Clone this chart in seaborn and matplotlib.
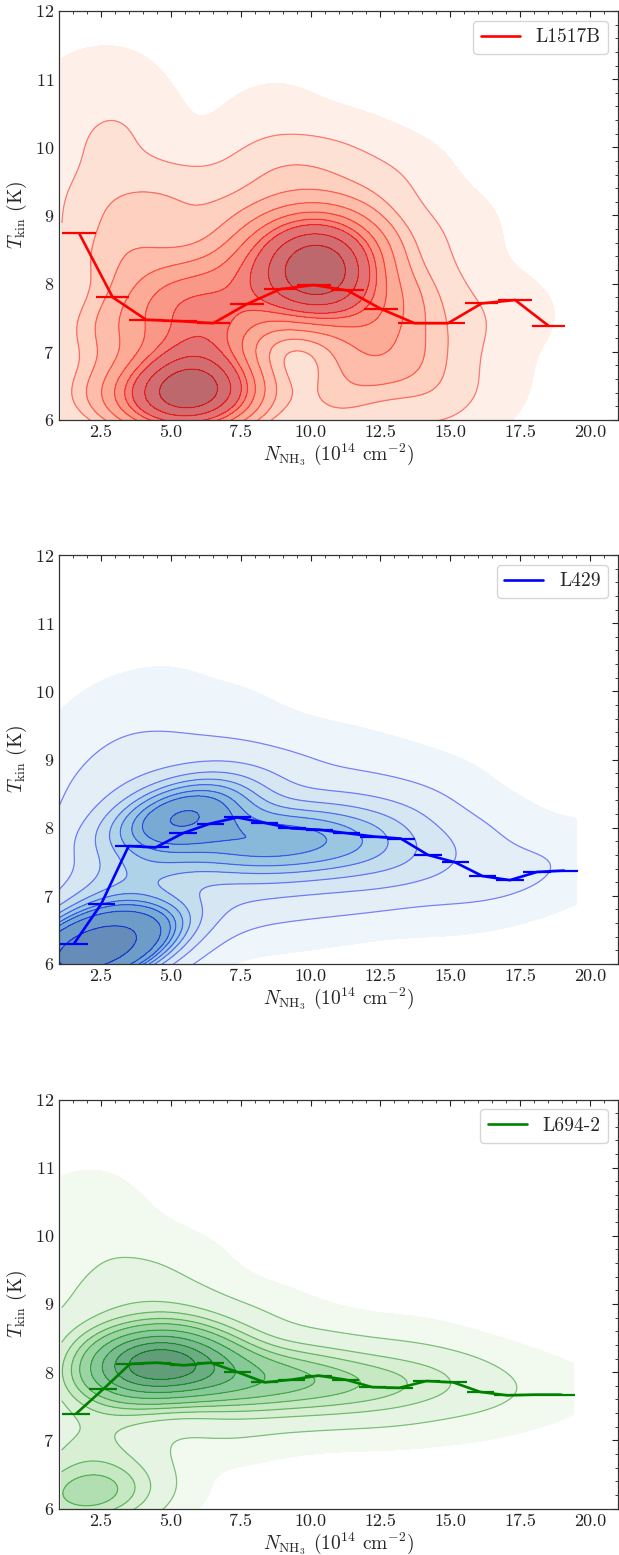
import numpy as np
import pandas as pd
import matplotlib
matplotlib.use("Agg")
import matplotlib.pyplot as plt
import seaborn as sns
from matplotlib.ticker import AutoMinorLocator, MultipleLocator, FormatStrFormatter

sns.set_style("white")
plt.rcParams["font.family"] = ["cmr10", "DejaVu Serif"]
plt.rcParams["mathtext.fontset"] = "cm"
plt.rcParams["axes.formatter.use_mathtext"] = True
plt.rcParams["axes.unicode_minus"] = False

# ---------------- binned mean lines ----------------
l1517_x = [1.72, 2.92, 4.12, 5.32, 6.52, 7.72, 8.92, 10.12, 11.32, 12.52, 13.72, 14.92, 16.12, 17.32, 18.52]
l1517_y = [8.74, 7.80, 7.47, 7.45, 7.42, 7.70, 7.92, 7.98, 7.90, 7.63, 7.42, 7.42, 7.71, 7.76, 7.38]
l1517_xerr = 0.6

l429_x = [1.54, 2.51, 3.49, 4.46, 5.44, 6.41, 7.38, 8.36, 9.33, 10.31, 11.28, 12.26, 13.23, 14.20, 15.18, 16.15, 17.13, 18.10, 19.07]
l429_y = [6.30, 6.88, 7.73, 7.71, 7.92, 8.06, 8.15, 8.07, 7.99, 7.97, 7.92, 7.87, 7.84, 7.60, 7.49, 7.29, 7.23, 7.35, 7.37]
l429_xerr = 0.49

l694_x = [1.61, 2.58, 3.54, 4.50, 5.46, 6.43, 7.39, 8.36, 9.32, 10.28, 11.25, 12.21, 13.18, 14.14, 15.11, 16.07, 17.04, 18.00, 18.97]
l694_y = [7.39, 7.75, 8.12, 8.14, 8.10, 8.14, 8.00, 7.85, 7.89, 7.95, 7.89, 7.78, 7.77, 7.87, 7.85, 7.71, 7.66, 7.67, 7.67]
l694_xerr = 0.49

# ---------------- density samples (x, y, weight) ----------------
l1517_pts_x = [4.9, 5.7, 6.4, 5.6, 5.7, 5.8,
               9.9, 10.4, 10.5, 11.2, 9.5, 10.3,
               3.5, 3.4, 4.3, 3.6, 7.3, 7.2, 7.6, 8.6, 8.3, 10.9, 11.8, 12.3, 12.2, 13.5, 13.8, 14.5, 15.0,
               1.6, 1.7, 2.0, 2.3, 2.7, 3.0,
               4.5, 6.5, 8.5, 10.5, 12.5, 14.5,
               16.5, 18.0, 16.0, 1.8, 2.8, 8.5]
l1517_pts_y = [6.35, 6.4, 6.45, 7.0, 7.6, 8.1,
               8.0, 8.4, 7.8, 8.1, 8.5, 8.8,
               6.4, 7.3, 7.9, 8.6, 6.3, 7.4, 8.3, 8.8, 7.9, 6.2, 6.9, 7.5, 8.6, 6.8, 7.9, 6.3, 7.3,
               6.4, 7.4, 8.3, 9.2, 10.0, 10.4,
               9.3, 9.1, 9.7, 9.7, 9.4, 8.7,
               7.6, 7.4, 6.5, 10.9, 11.0, 10.5]
l1517_pts_w = [4, 5, 3, 2.5, 2.5, 1.5,
               4, 4, 3, 2.5, 2, 2,
               2.5, 2, 2, 1.4, 2.7, 2.7, 2, 1.8, 1.5, 1.5, 1.8, 2.5, 1.5, 1.5, 1.2, 1.0, 0.8,
               1.0, 0.9, 0.9, 1.0, 0.7, 0.4,
               1.2, 1.0, 1.2, 1.1, 0.9, 0.5,
               0.25, 0.06, 0.2, 0.15, 0.15, 0.2]

l429_pts_x = [1.9, 2.6, 3.1, 2.3, 1.3,
              1.6, 2.0, 2.5, 3.0,
              5.0, 5.8, 6.6, 4.3, 5.5,
              3.8, 4.5, 7.5, 8.5, 9.5, 10.5, 11.5, 12.5, 13.5, 14.5, 15.5, 16.5, 17.5, 18.5, 19.2,
              4.0, 6.5, 9.0, 11.0, 13.0, 7.5, 10.0, 12.5, 3.5, 6.0]
l429_pts_y = [6.15, 6.2, 6.3, 6.55, 6.4,
              7.0, 7.8, 8.6, 9.3,
              8.3, 8.3, 8.1, 8.1, 7.9,
              7.3, 6.6, 7.7, 7.9, 7.6, 8.0, 7.6, 7.9, 7.5, 7.6, 7.3, 7.2, 7.3, 7.35, 7.4,
              9.0, 9.0, 8.8, 8.6, 8.4, 6.9, 6.9, 7.0, 9.9, 9.6]
l429_pts_w = [8, 10, 2, 2, 2,
              1.2, 1, 0.8, 0.45,
              3, 3, 2.5, 2.2, 2,
              2.5, 1.2, 3, 2.5, 2.5, 2.2, 2.2, 1.8, 1.5, 0.9, 0.6, 0.5, 0.3, 0.25, 0.15,
              0.6, 0.7, 0.6, 0.5, 0.3, 1.0, 0.6, 0.4, 0.25, 0.2]

l694_pts_x = [3.6, 4.4, 5.3, 6.2, 4.0, 4.8,
              7.2, 8.4, 9.6, 10.8, 12.0, 13.2, 14.4, 15.6, 16.8, 18.0, 19.0,
              2.5, 2.2, 3.0, 5.0, 7.5, 10.0, 13.0, 7.0, 10.0, 13.0, 15.5,
              1.8, 2.5, 1.5, 2.2, 3.0,
              1.8, 2.5, 4.5, 2.0]
l694_pts_y = [8.2, 8.15, 8.1, 8.0, 7.8, 8.5,
              7.9, 7.85, 7.9, 7.85, 7.8, 7.8, 7.9, 7.8, 7.7, 7.7, 7.7,
              7.8, 8.6, 9.2, 9.0, 8.7, 8.4, 8.3, 7.2, 7.4, 7.4, 7.4,
              6.2, 6.25, 6.8, 7.2, 6.8,
              10.2, 9.8, 9.6, 10.8]
l694_pts_w = [6, 7, 6, 4, 3, 2,
              3, 2.5, 2, 1.8, 1.3, 1.0, 0.8, 0.5, 0.25, 0.12, 0.06,
              1.5, 1, 0.8, 0.8, 0.6, 0.4, 0.3, 0.6, 0.4, 0.3, 0.15,
              3, 2.5, 1.0, 1.0, 0.6,
              0.35, 0.3, 0.3, 0.1]

clip_1517 = ((1.1, 19.3), (5.0, 11.6))
clip_429 = ((1.0, 19.5), (5.0, 10.57))
clip_694 = ((1.1, 19.4), (5.0, 11.05))

line_levels = [0.05, 0.156, 0.261, 0.367, 0.472, 0.578, 0.683, 0.789, 0.894]
fill_levels = [0.004] + line_levels + [1.0]

panels = [
    (l1517_pts_x, l1517_pts_y, l1517_pts_w, clip_1517, l1517_x, l1517_y, l1517_xerr, "Reds", "red", "L1517B"),
    (l429_pts_x, l429_pts_y, l429_pts_w, clip_429, l429_x, l429_y, l429_xerr, "Blues", "blue", "L429"),
    (l694_pts_x, l694_pts_y, l694_pts_w, clip_694, l694_x, l694_y, l694_xerr, "Greens", "green", "L694-2"),
]

W, H = 619, 1555
fig = plt.figure(figsize=(W / 100, H / 100), dpi=100)
ax_left = 59 / W
ax_w = 559 / W
ax_h = 409 / H
tops = [11, 555, 1099.5]
BW = 0.68

for (px, py, pw, clip, mx, my, mxe, cmap, col, lab), top in zip(panels, tops):
    ax = fig.add_axes([ax_left, 1 - (top + 409) / H, ax_w, ax_h])
    df = pd.DataFrame({"x": px, "y": py, "w": pw})
    band_colors = sns.color_palette(cmap, len(fill_levels) - 1)
    sns.kdeplot(data=df, x="x", y="y", weights="w", fill=True, levels=fill_levels,
                color=col, colors=band_colors, alpha=0.62, bw_adjust=BW, clip=clip, ax=ax)
    sns.kdeplot(data=df, x="x", y="y", weights="w", fill=False, levels=line_levels,
                color=col, alpha=0.45, linewidths=0.9, bw_adjust=BW, clip=clip, ax=ax)
    sns.lineplot(x=mx, y=my, color=col, lw=1.9, ax=ax, label=lab, sort=False)
    ax.errorbar(mx, my, xerr=mxe, fmt="none", ecolor=col, elinewidth=1.6, capsize=0)
    ax.set_xlim(1, 21)
    ax.set_ylim(6, 12)
    ax.xaxis.set_major_locator(MultipleLocator(2.5))
    ax.yaxis.set_major_locator(MultipleLocator(1))
    ax.xaxis.set_minor_locator(AutoMinorLocator(5))
    ax.yaxis.set_minor_locator(AutoMinorLocator(5))
    ax.tick_params(which="both", direction="in", top=True, right=True, colors="#222222",
                   labelsize=13)
    ax.tick_params(which="major", length=4.5, width=0.8)
    ax.tick_params(which="minor", length=2.5, width=0.6)
    for s in ax.spines.values():
        s.set_color("#333333")
        s.set_linewidth(0.9)
    ax.set_xlabel(r"$N_{\rm NH_3}$ ($10^{14}$ cm$^{-2}$)", fontsize=14, labelpad=1)
    ax.set_ylabel(r"$T_{\rm kin}$ (K)", fontsize=14, labelpad=4)
    ax.xaxis.set_major_formatter(FormatStrFormatter("%.1f"))
    ax.legend(loc="upper right", fontsize=14, handlelength=2.0, fancybox=True,
              framealpha=0.8, edgecolor="#cccccc")

fig.savefig("out.png", dpi=100)
